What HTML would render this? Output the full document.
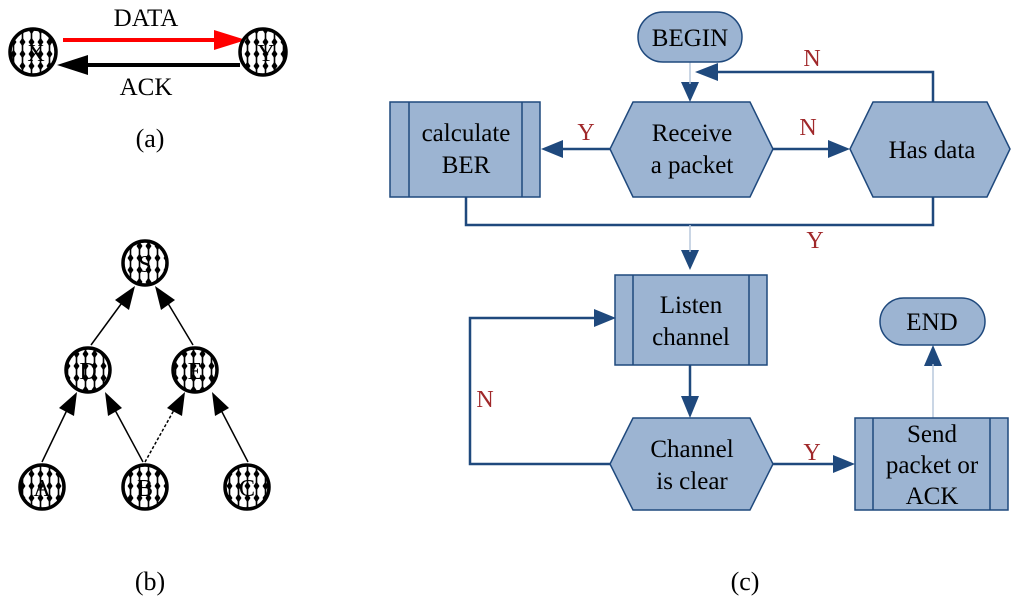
<!DOCTYPE html>
<html><head><meta charset="utf-8"><style>body{margin:0;background:#fff}svg{display:block}svg text{font-family:"Liberation Serif","Times New Roman",serif}</style></head><body>
<svg width="1024" height="609" viewBox="0 0 1024 609" xmlns="http://www.w3.org/2000/svg">
<defs>
<pattern id="p" width="9" height="12" patternUnits="userSpaceOnUse">
<rect width="9" height="12" fill="#fff"/>
<line x1="4.5" y1="0" x2="4.5" y2="12" stroke="#000" stroke-width="1.6"/>
<polygon points="4.5,1.5 7.5,6 4.5,10.5 1.5,6" fill="#000"/>
</pattern>
</defs>

<!-- (a) -->
<line x1="63" y1="40" x2="222" y2="40" stroke="#f00" stroke-width="4"/>
<path d="M246,40 L214,30 L214,50z" fill="#f00"/>
<line x1="240" y1="65" x2="82" y2="65" stroke="#000" stroke-width="4"/>
<path d="M57,65 L88,55 L88,75z" fill="#000"/>
<circle cx="33" cy="52" r="23" fill="url(#p)" stroke="#000" stroke-width="3.5"/>
<circle cx="263" cy="52" r="23" fill="url(#p)" stroke="#000" stroke-width="3.5"/>
<text x="36" y="61" font-size="24" text-anchor="middle">X</text>
<text x="266" y="61" font-size="24" text-anchor="middle">Y</text>
<text x="146" y="26" font-size="25" text-anchor="middle">DATA</text>
<text x="146" y="95" font-size="25" text-anchor="middle">ACK</text>
<text x="150" y="147" font-size="26" text-anchor="middle">(a)</text>

<!-- (b) -->
<g stroke="#000" stroke-width="1.5">
<line x1="91" y1="345" x2="124" y2="300"/>
<line x1="193" y1="345" x2="166" y2="300"/>
<line x1="42" y1="462" x2="67" y2="410"/>
<line x1="143" y1="462" x2="115" y2="410"/>
<line x1="145" y1="462" x2="174" y2="410" stroke-dasharray="3,2"/>
<line x1="248" y1="462" x2="221" y2="410"/>
</g>
<g fill="#000">
<polygon points="135,286 129,310 115,300"/>
<polygon points="155,286 175,300 161,310"/>
<polygon points="77,392 74,416 59,408"/>
<polygon points="105,392 122,408 108,416"/>
<polygon points="185,392 182,416 167,408"/>
<polygon points="212,392 229,408 215,416"/>
</g>
<g fill="url(#p)" stroke="#000" stroke-width="3.5">
<circle cx="145" cy="263" r="22"/><circle cx="88" cy="370" r="22"/><circle cx="195" cy="370" r="22"/>
<circle cx="42" cy="487" r="22"/><circle cx="145" cy="487" r="22"/><circle cx="247" cy="487" r="22"/>
</g>
<g font-size="24" text-anchor="middle">
<text x="145" y="272">S</text><text x="88" y="379">D</text><text x="195" y="379">E</text>
<text x="42" y="496">A</text><text x="145" y="496">B</text><text x="247" y="496">C</text>
</g>
<text x="150" y="590" font-size="26" text-anchor="middle">(b)</text>

<!-- (c) -->
<g stroke="#1f497d" stroke-width="2.5" fill="none">
<path d="M933,102 V72 H716" />
<path d="M466,197 V225 H933 V197"/>
<path d="M610,464 H470 V318 H596"/>
</g>
<g fill="#1f497d">
<path d="M695,72 L718,63 L718,81z"/>
<path d="M616,318 L594,309 L594,327z"/>
<path d="M541,149 L563,140 L563,158z"/>
<path d="M850,149 L828,140 L828,158z"/>
<path d="M855,464 L833,455 L833,473z"/>
<path d="M690,102 L681,82 L699,82z"/>
<path d="M690,418 L681,396 L699,396z"/>
<path d="M933,345 L924,366 L942,366z"/>
<path d="M690,270 L681,250 L699,250z"/>
</g>
<g stroke="#1f497d" stroke-width="2.5">
<line x1="610" y1="149" x2="560" y2="149"/>
<line x1="773" y1="149" x2="830" y2="149"/>
<line x1="773" y1="464" x2="835" y2="464"/>
<line x1="690" y1="365" x2="690" y2="398"/>
</g>
<g stroke="#b8c8dc" stroke-width="1.5">
<line x1="690" y1="62" x2="690" y2="84"/>
<line x1="690" y1="225" x2="690" y2="252"/>
<line x1="933" y1="418" x2="933" y2="364"/>
</g>
<g fill="#9cb4d2" stroke="#1f497d" stroke-width="1.5">
<rect x="638" y="12" width="104" height="50" rx="25"/>
<rect x="880" y="298" width="105" height="47" rx="23.5"/>
<polygon points="633,102 750,102 773,149 750,197 633,197 610,149"/>
<polygon points="873,102 987,102 1010,149 987,197 873,197 850,149"/>
<polygon points="633,418 750,418 773,464 750,510 633,510 610,464"/>
<rect x="390" y="102" width="150" height="95"/>
<rect x="615" y="275" width="152" height="90"/>
<rect x="855" y="418" width="153" height="92"/>
<line x1="409" y1="102" x2="409" y2="197"/><line x1="522" y1="102" x2="522" y2="197"/>
<line x1="633" y1="275" x2="633" y2="365"/><line x1="749" y1="275" x2="749" y2="365"/>
<line x1="873" y1="418" x2="873" y2="510"/><line x1="990" y1="418" x2="990" y2="510"/>
</g>
<g font-size="25" text-anchor="middle" fill="#000">
<text x="690" y="46">BEGIN</text>
<text x="932" y="330">END</text>
<text x="692" y="141">Receive</text><text x="692" y="173">a packet</text>
<text x="932" y="158">Has data</text>
<text x="466" y="141">calculate</text><text x="466" y="173">BER</text>
<text x="691" y="313">Listen</text><text x="691" y="345">channel</text>
<text x="692" y="457">Channel</text><text x="692" y="489">is clear</text>
<text x="932" y="442">Send</text><text x="932" y="473">packet or</text><text x="932" y="504">ACK</text>
</g>
<g font-size="24" text-anchor="middle" fill="#a0282a">
<text x="812" y="66">N</text>
<text x="808" y="135">N</text>
<text x="586" y="140">Y</text>
<text x="815" y="248">Y</text>
<text x="485" y="407">N</text>
<text x="812" y="460">Y</text>
</g>
<text x="745" y="590" font-size="26" text-anchor="middle">(c)</text>
</svg>
</body></html>
